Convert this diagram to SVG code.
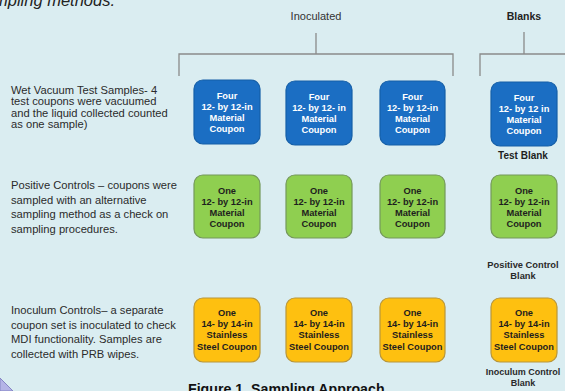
<svg xmlns="http://www.w3.org/2000/svg" width="565" height="391" viewBox="0 0 565 391">
<style>
.bg{fill:#daedf1}
.desc{font-family:"Liberation Sans",Arial,sans-serif;font-size:11.2px;fill:#2b2b2b}
.hdr{font-family:"Liberation Sans",Arial,sans-serif;fill:#333;text-anchor:middle}
.box{stroke-width:1.2}
.blue{fill:#1b6ec3;stroke:#155fa8}
.green{fill:#8fcf50;stroke:#74985a}
.orange{fill:#fec010;stroke:#b8963a}
.bt{font-family:"Liberation Sans",Arial,sans-serif;font-size:9.3px;font-weight:bold;text-anchor:middle}
.wt{fill:#ffffff}
.dt{fill:#1e1e1e}
.lbl{font-family:"Liberation Sans",Arial,sans-serif;font-weight:bold;text-anchor:middle;fill:#2a2a2a}
.conn{fill:none;stroke:#8a8a8a;stroke-width:1.3}
</style>
<rect class="bg" x="0" y="0" width="565" height="391"/>
<text x="-6" y="6" font-family="Liberation Sans, Arial, sans-serif" font-size="16.5" font-style="italic" fill="#222">mpling methods.</text>
<polygon points="0,378 13,391 0,391" fill="#b4b4e6" stroke="#8585c4" stroke-width="1"/>

<text class="hdr" x="316" y="20" font-size="11">Inoculated</text>
<text class="hdr" x="524" y="20" font-size="10.5" font-weight="bold" style="fill:#222">Blanks</text>

<g id="connectors">
<path class="conn" d="M316,33 V54 M179,76 V54 H453 V76"/>
<path class="conn" d="M524,32 V54 M480,76 V54 H566"/>
</g>

<g id="row-labels">
<text class="desc" x="11" y="93.5">Wet Vacuum Test Samples- 4</text>
<text class="desc" x="11" y="105">test coupons were vacuumed</text>
<text class="desc" x="11" y="116.5">and the liquid collected counted</text>
<text class="desc" x="11" y="128">as one sample)</text>
<text class="desc" x="11" y="189">Positive Controls – coupons were</text>
<text class="desc" x="11" y="203.5">sampled with an alternative</text>
<text class="desc" x="11" y="218">sampling method as a check on</text>
<text class="desc" x="11" y="232.5">sampling procedures.</text>
<text class="desc" x="11" y="314">Inoculum Controls– a separate</text>
<text class="desc" x="11" y="328.5">coupon set is inoculated to check</text>
<text class="desc" x="11" y="343">MDI functionality.  Samples are</text>
<text class="desc" x="11" y="357.5">collected with PRB wipes.</text>
</g>

<g id="wv1"><rect class="box blue" x="194" y="80" width="66" height="64" rx="9"/>
<text class="bt wt"><tspan x="227" y="99">Four</tspan><tspan x="227" y="110">12- by 12-in</tspan><tspan x="227" y="121">Material</tspan><tspan x="227" y="132">Coupon</tspan></text></g>
<g id="wv2"><rect class="box blue" x="286" y="81" width="66" height="64" rx="9"/>
<text class="bt wt"><tspan x="319" y="100">Four</tspan><tspan x="319" y="111">12- by 12- in</tspan><tspan x="319" y="122">Material</tspan><tspan x="319" y="133">Coupon</tspan></text></g>
<g id="wv3"><rect class="box blue" x="380" y="81" width="65" height="64" rx="9"/>
<text class="bt wt"><tspan x="412.5" y="100">Four</tspan><tspan x="412.5" y="111">12- by 12-in</tspan><tspan x="412.5" y="122">Material</tspan><tspan x="412.5" y="133">Coupon</tspan></text></g>
<g id="wv-blank"><rect class="box blue" x="491" y="82" width="66" height="64" rx="9"/>
<text class="bt wt"><tspan x="524" y="101">Four</tspan><tspan x="524" y="112">12- by 12 in</tspan><tspan x="524" y="123">Material</tspan><tspan x="524" y="134">Coupon</tspan></text>
<text class="lbl" x="523" y="159" font-size="10" style="fill:#1e1e1e">Test Blank</text></g>

<g id="pc1"><rect class="box green" x="194" y="175" width="66" height="63" rx="9"/>
<text class="bt dt"><tspan x="227" y="193.5">One</tspan><tspan x="227" y="204.5">12- by 12-in</tspan><tspan x="227" y="215.5">Material</tspan><tspan x="227" y="226.5">Coupon</tspan></text></g>
<g id="pc2"><rect class="box green" x="286" y="175" width="66" height="63" rx="9"/>
<text class="bt dt"><tspan x="319" y="193.5">One</tspan><tspan x="319" y="204.5">12- by 12-in</tspan><tspan x="319" y="215.5">Material</tspan><tspan x="319" y="226.5">Coupon</tspan></text></g>
<g id="pc3"><rect class="box green" x="380" y="175" width="65" height="63" rx="9"/>
<text class="bt dt"><tspan x="412.5" y="193.5">One</tspan><tspan x="412.5" y="204.5">12- by 12-in</tspan><tspan x="412.5" y="215.5">Material</tspan><tspan x="412.5" y="226.5">Coupon</tspan></text></g>
<g id="pc-blank"><rect class="box green" x="491" y="175" width="66" height="63" rx="9"/>
<text class="bt dt"><tspan x="524" y="193.5">One</tspan><tspan x="524" y="204.5">12- by 12-in</tspan><tspan x="524" y="215.5">Material</tspan><tspan x="524" y="226.5">Coupon</tspan></text>
<text class="lbl" x="523" y="267.5" font-size="9.3">Positive Control</text>
<text class="lbl" x="523" y="278.5" font-size="9.3">Blank</text></g>

<g id="ic1"><rect class="box orange" x="194" y="298" width="66" height="64" rx="9"/>
<text class="bt dt"><tspan x="227" y="316">One</tspan><tspan x="227" y="327">14- by 14-in</tspan><tspan x="227" y="338">Stainless</tspan><tspan x="227" y="349.5">Steel Coupon</tspan></text></g>
<g id="ic2"><rect class="box orange" x="286" y="298" width="66" height="64" rx="9"/>
<text class="bt dt"><tspan x="319" y="316">One</tspan><tspan x="319" y="327">14- by 14-in</tspan><tspan x="319" y="338">Stainless</tspan><tspan x="319" y="349.5">Steel Coupon</tspan></text></g>
<g id="ic3"><rect class="box orange" x="380" y="298" width="65" height="64" rx="9"/>
<text class="bt dt"><tspan x="412.5" y="316">One</tspan><tspan x="412.5" y="327">14- by 14-in</tspan><tspan x="412.5" y="338">Stainless</tspan><tspan x="412.5" y="349.5">Steel Coupon</tspan></text></g>
<g id="ic-blank"><rect class="box orange" x="491" y="298" width="66" height="64" rx="9"/>
<text class="bt dt"><tspan x="524" y="316">One</tspan><tspan x="524" y="327">14- by 14-in</tspan><tspan x="524" y="338">Stainless</tspan><tspan x="524" y="349.5">Steel Coupon</tspan></text>
<text class="lbl" x="523" y="375" font-size="9">Inoculum Control</text>
<text class="lbl" x="523" y="386" font-size="9">Blank</text></g>

<text x="188" y="394" font-family="Liberation Sans, Arial, sans-serif" font-size="14.2" font-weight="bold" fill="#111">Figure 1. Sampling Approach</text>
</svg>
